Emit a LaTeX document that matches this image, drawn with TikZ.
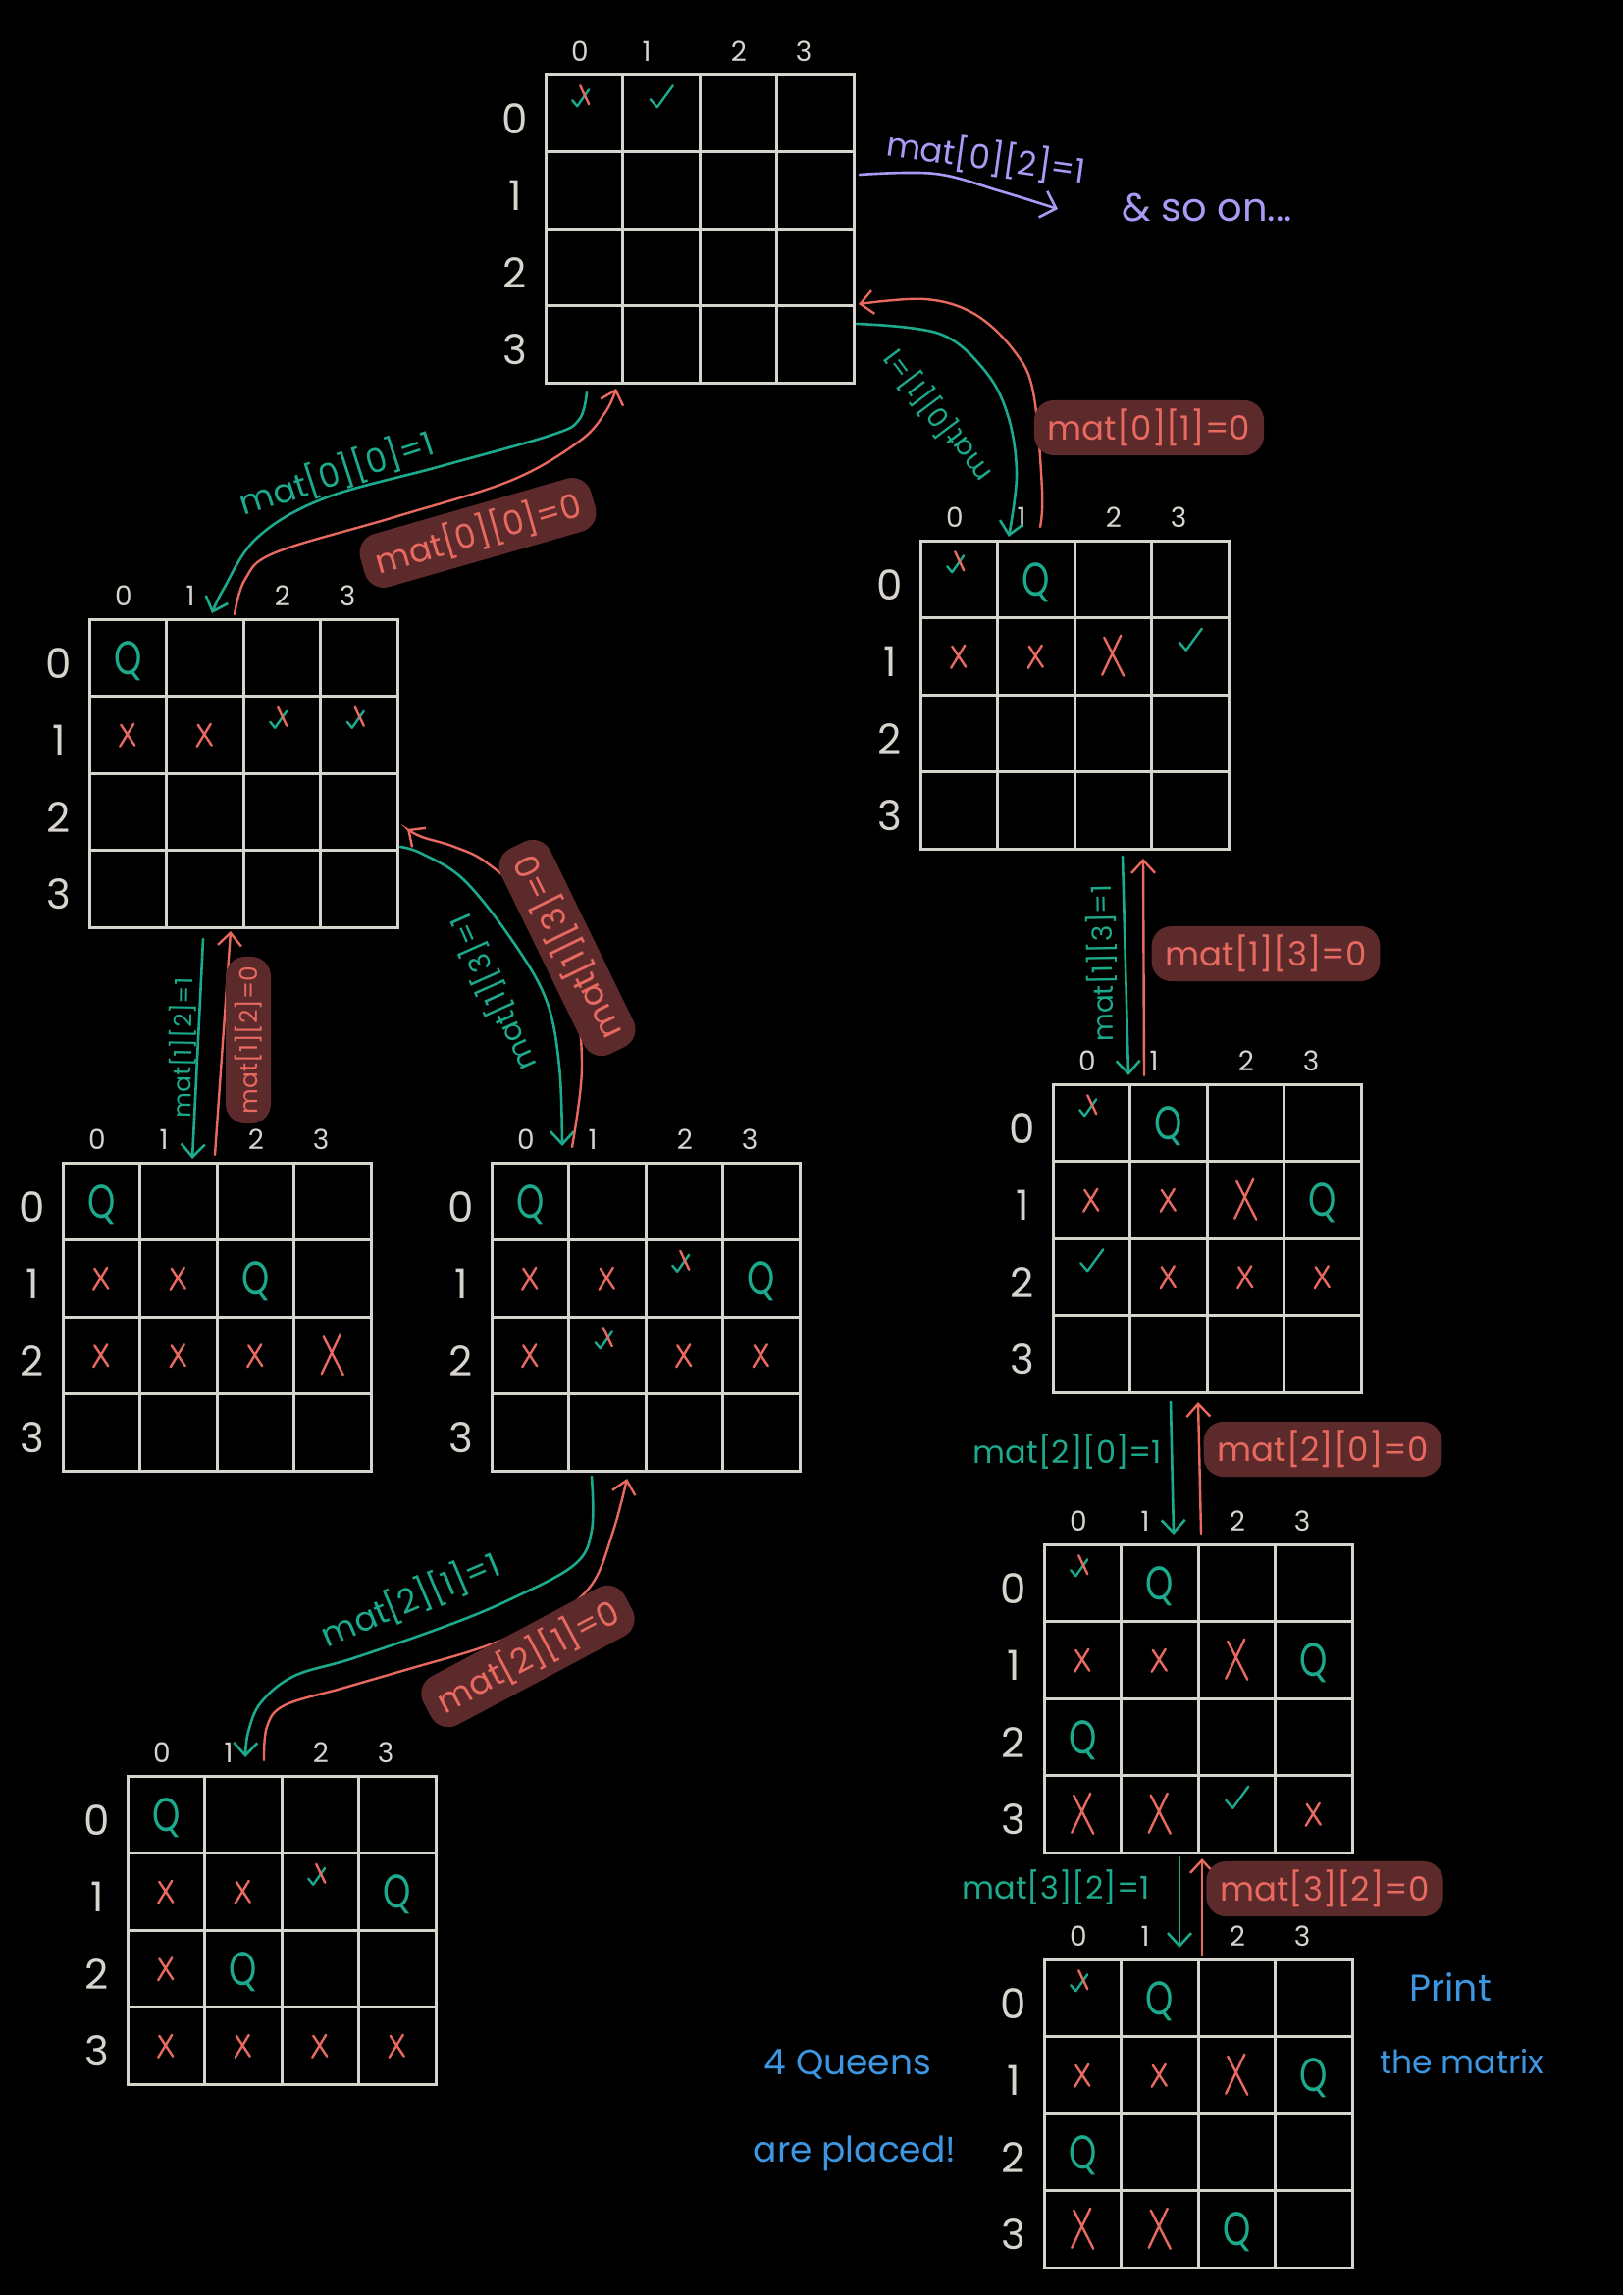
\documentclass[tikz,border=0pt]{standalone}
\usepackage{fontspec}
\setmainfont{Poppins}
\usetikzlibrary{arrows.meta,calc}
\definecolor{tealc}{HTML}{1DAA8C}
\definecolor{redc}{HTML}{E8695F}
\definecolor{blobc}{HTML}{5C2A2B}
\definecolor{purp}{HTML}{A99BF5}
\definecolor{bluec}{HTML}{3C96E1}
\definecolor{gridc}{HTML}{D7D4CD}
\tikzset{
  gridline/.style={draw=gridc,line width=3pt},
  collab/.style={text=gridc,font=\fontsize{28}{28}\selectfont,inner sep=0pt},
  rowlab/.style={text=gridc,font=\fontsize{42}{42}\selectfont,inner sep=0pt},
  queen/.style={text=tealc,font=\fontsize{48}{48}\selectfont,inner sep=0pt},
  mkline/.style={line width=2.4pt,line cap=round,line join=round},
  fwd/.style={draw=tealc,line width=2.6pt,line cap=round,-{Straight Barb[length=13pt,width=24pt]}},
  bwd/.style={draw=redc,line width=2.4pt,line cap=round,-{Straight Barb[length=13pt,width=24pt]}},
  prp/.style={draw=purp,line width=2.6pt,line cap=round,-{Straight Barb[length=14pt,width=28pt]}},
  lbl/.style={font=\fontsize{34}{34}\selectfont,inner sep=0pt},
  tl/.style={lbl,text=tealc},
  rl/.style={lbl,text=redc,fill=blobc,rounded corners=20pt,inner xsep=14pt,inner ysep=9pt},
  pl/.style={font=\fontsize{34}{34}\selectfont,text=purp,inner sep=0pt},
  bl/.style={font=\fontsize{36}{36}\selectfont,text=bluec,inner sep=0pt},
  pics/xs/.style={code={\draw[mkline,redc] (-7,-10) -- (7,11) (6,-11) -- (-8,12);}},
  pics/xb/.style={code={\draw[mkline,redc] (-9,-19) -- (11,20) (8,-21) -- (-11,19);}},
  pics/ck/.style={code={\draw[mkline,tealc] (-11,-14) -- (-4,-6) -- (12,-28);}},
  pics/cx/.style={code={\draw[mkline,tealc] (-12,-13) -- (-7,-7) -- (5,-24);
                        \draw[mkline,redc] (-4,-28) -- (5,-9);}},
}
\newcommand\qgrid[3]{%
  \coordinate (#1) at (#2,#3);
  \draw[gridline] (#1) rectangle ([shift={(314,314)}]#1);
  \foreach \k in {1,2,3}{
    \draw[gridline] ([shift={(\k*78.5,0)}]#1) -- ([shift={(\k*78.5,314)}]#1);
    \draw[gridline] ([shift={(0,\k*78.5)}]#1) -- ([shift={(314,\k*78.5)}]#1);
  }
  \foreach \k/\dx in {0/35,1/103,2/197,3/263}
    \node[collab] (#1c\k) at ([shift={(\dx,-24)}]#1) {\k};
  \foreach \k in {0,1,2,3}
    \node[rowlab] (#1r\k) at ([shift={(-31,\k*78.5+45)}]#1) {\k};
}
\newcommand\mk[4]{\pic at ([shift={({(#4+0.5)*78.5},{(#3+0.5)*78.5})}]#2) {#1};}
\newcommand\mq[3]{\node[queen] (#1q#2#3) at ([shift={({(#3+0.5)*78.5},{(#2+0.5)*78.5+3})}]#1) {\scalebox{0.75}[1]{Q}};}
\begin{document}
\begin{tikzpicture}[x=1pt,y=-1pt]
\fill[black] (0,0) rectangle (1654,2339);
\useasboundingbox (0,0) rectangle (1654,2339);

% grids
\qgrid{A}{556}{76}
\qgrid{B}{91}{631}
\qgrid{C}{938}{551}
\qgrid{D}{64}{1185}
\qgrid{E}{501}{1185}
\qgrid{F}{1073}{1105}
\qgrid{G}{130}{1810}
\qgrid{H}{1064}{1574}
\qgrid{I}{1064}{1997}

% marks
\mk{cx}{A}{0}{0} \mk{ck}{A}{0}{1}

\mq{B}{0}{0} \mk{xs}{B}{1}{0} \mk{xs}{B}{1}{1} \mk{cx}{B}{1}{2} \mk{cx}{B}{1}{3}

\mk{cx}{C}{0}{0} \mq{C}{0}{1} \mk{xs}{C}{1}{0} \mk{xs}{C}{1}{1} \mk{xb}{C}{1}{2} \mk{ck}{C}{1}{3}

\mq{D}{0}{0} \mk{xs}{D}{1}{0} \mk{xs}{D}{1}{1} \mq{D}{1}{2}
\mk{xs}{D}{2}{0} \mk{xs}{D}{2}{1} \mk{xs}{D}{2}{2} \mk{xb}{D}{2}{3}

\mq{E}{0}{0} \mk{xs}{E}{1}{0} \mk{xs}{E}{1}{1} \mk{cx}{E}{1}{2} \mq{E}{1}{3}
\mk{xs}{E}{2}{0} \mk{cx}{E}{2}{1} \mk{xs}{E}{2}{2} \mk{xs}{E}{2}{3}

\mk{cx}{F}{0}{0} \mq{F}{0}{1} \mk{xs}{F}{1}{0} \mk{xs}{F}{1}{1} \mk{xb}{F}{1}{2} \mq{F}{1}{3}
\mk{ck}{F}{2}{0} \mk{xs}{F}{2}{1} \mk{xs}{F}{2}{2} \mk{xs}{F}{2}{3}

\mq{G}{0}{0} \mk{xs}{G}{1}{0} \mk{xs}{G}{1}{1} \mk{cx}{G}{1}{2} \mq{G}{1}{3}
\mk{xs}{G}{2}{0} \mq{G}{2}{1}
\mk{xs}{G}{3}{0} \mk{xs}{G}{3}{1} \mk{xs}{G}{3}{2} \mk{xs}{G}{3}{3}

\mk{cx}{H}{0}{0} \mq{H}{0}{1} \mk{xs}{H}{1}{0} \mk{xs}{H}{1}{1} \mk{xb}{H}{1}{2} \mq{H}{1}{3}
\mq{H}{2}{0} \mk{xb}{H}{3}{0} \mk{xb}{H}{3}{1} \mk{ck}{H}{3}{2} \mk{xs}{H}{3}{3}

\mk{cx}{I}{0}{0} \mq{I}{0}{1} \mk{xs}{I}{1}{0} \mk{xs}{I}{1}{1} \mk{xb}{I}{1}{2} \mq{I}{1}{3}
\mq{I}{2}{0} \mk{xb}{I}{3}{0} \mk{xb}{I}{3}{1} \mq{I}{3}{2}

% connector end points
\coordinate (ab1) at (598,400);  \coordinate (ab2) at (216,625);
\coordinate (ba1) at (239,626);  \coordinate (ba2) at (628,396);
\coordinate (ac1) at (873,330);  \coordinate (ac2) at (1028,547);
\coordinate (ca1) at (1060,537); \coordinate (ca2) at (875,310);
\coordinate (be1) at (408,863);  \coordinate (be2) at (573,1168);
\coordinate (eb1) at (583,1169); \coordinate (eb2) at (415,845);
\coordinate (bd1) at (207,957);  \coordinate (bd2) at (196,1181);
\coordinate (db1) at (219,1177); \coordinate (db2) at (235,949);
\coordinate (eg1) at (603,1505); \coordinate (eg2) at (250,1791);
\coordinate (ge1) at (269,1794); \coordinate (ge2) at (639,1507);
\coordinate (cf1) at (1144,873); \coordinate (cf2) at (1150,1096);
\coordinate (fc1) at (1166,1096);\coordinate (fc2) at (1165,875);
\coordinate (fh1) at (1193,1429);\coordinate (fh2) at (1196,1564);
\coordinate (hf1) at (1224,1563);\coordinate (hf2) at (1221,1429);
\coordinate (hi1) at (1202,1893);\coordinate (hi2) at (1202,1985);
\coordinate (ih1) at (1225,1993);\coordinate (ih2) at (1225,1894);
\coordinate (pa1) at (876,178);  \coordinate (pa2) at (1078,213);

% connectors
\draw[fwd] plot[smooth,tension=0.6] coordinates {(ab1) (590,428) (560,444) (446,476) (330,508) (262,548) (228,600) (ab2)};
\draw[bwd] plot[smooth,tension=0.6] coordinates {(ba1) (250,590) (281,563) (402,527) (520,490) (590,450) (617,420) (ba2)};
\draw[fwd] plot[smooth,tension=0.6] coordinates {(ac1) (957,340) (1003,377) (1027,423) (1036,483) (ac2)};
\draw[bwd] plot[smooth,tension=0.6] coordinates {(ca1) (1062,500) (1053,400) (1033,357) (993,320) (943,305) (ca2)};
\draw[fwd] plot[smooth,tension=0.6] coordinates {(be1) (430,870) (473,897) (523,960) (557,1020) (570,1087) (be2)};
\draw[bwd] plot[smooth,tension=0.6] coordinates {(eb1) (593,1087) (583,1007) (547,927) (497,880) (463,863) (430,853) (eb2)};
\draw[fwd] (bd1) -- (bd2);
\draw[bwd] (db1) -- (db2);
\draw[fwd] plot[smooth,tension=0.6] coordinates {(eg1) (603,1560) (585,1595) (520,1630) (455,1657) (360,1690) (300,1708) (266,1735) (253,1765) (eg2)};
\draw[bwd] plot[smooth,tension=0.6] coordinates {(ge1) (272,1760) (290,1738) (351,1720) (420,1700) (494,1678) (560,1650) (603,1615) (625,1560) (ge2)};
\draw[fwd] (cf1) -- (cf2);
\draw[bwd] (fc1) -- (fc2);
\draw[fwd] (fh1) -- (fh2);
\draw[bwd] (hf1) -- (hf2);
\draw[fwd] (hi1) -- (hi2);
\draw[bwd] (ih1) -- (ih2);
\draw[prp] plot[smooth,tension=0.6] coordinates {(pa1) (953,177) (1020,195) (pa2)};

% labels
\node[tl,rotate=18] (t1) at (343,482) {mat[0][0]=1};
\node[rl,rotate=16] (r1) at (487,543) {mat[0][0]=0};
\node[tl,rotate=127,font=\fontsize{28}{28}\selectfont] (t2) at (955,424) {mat[0][1]=1};
\node[rl] (r2) at (1171,436) {mat[0][1]=0};
\node[tl,rotate=114,font=\fontsize{30}{30}\selectfont] (t3) at (502,1012) {mat[1][3]=1};
\node[rl,rotate=116] (r3) at (578,966) {mat[1][3]=0};
\node[tl,rotate=89,font=\fontsize{25}{25}\selectfont] (t4) at (186,1068) {mat[1][2]=1};
\node[rl,rotate=90,font=\fontsize{25}{25}\selectfont,inner xsep=10pt] (r4) at (253,1060) {mat[1][2]=0};
\node[tl,rotate=23] (t5) at (418,1630) {mat[2][1]=1};
\node[rl,rotate=28] (r5) at (538,1688) {mat[2][1]=0};
\node[tl,rotate=91,font=\fontsize{28}{28}\selectfont] (t6) at (1123,982) {mat[1][3]=1};
\node[rl] (r6) at (1290,972) {mat[1][3]=0};
\node[tl,font=\fontsize{32}{32}\selectfont] (t7) at (1088,1480) {mat[2][0]=1};
\node[rl] (r7) at (1348,1477) {mat[2][0]=0};
\node[tl,font=\fontsize{32}{32}\selectfont] (t8) at (1076,1924) {mat[3][2]=1};
\node[rl] (r8) at (1350,1925) {mat[3][2]=0};
\node[pl,rotate=-8] (pm) at (1005,160) {mat[0][2]=1};
\node[pl,font=\fontsize{40}{40}\selectfont] (so) at (1230,212) {\& so on...};

\node[bl] (q1) at (864,2104) {4 Queens};
\node[bl] (q2) at (871,2195) {are placed!};
\node[bl,font=\fontsize{38}{38}\selectfont] (p1) at (1478,2025) {Print};
\node[bl,font=\fontsize{33}{33}\selectfont] (p2) at (1490,2101) {the matrix};
\end{tikzpicture}
\end{document}
